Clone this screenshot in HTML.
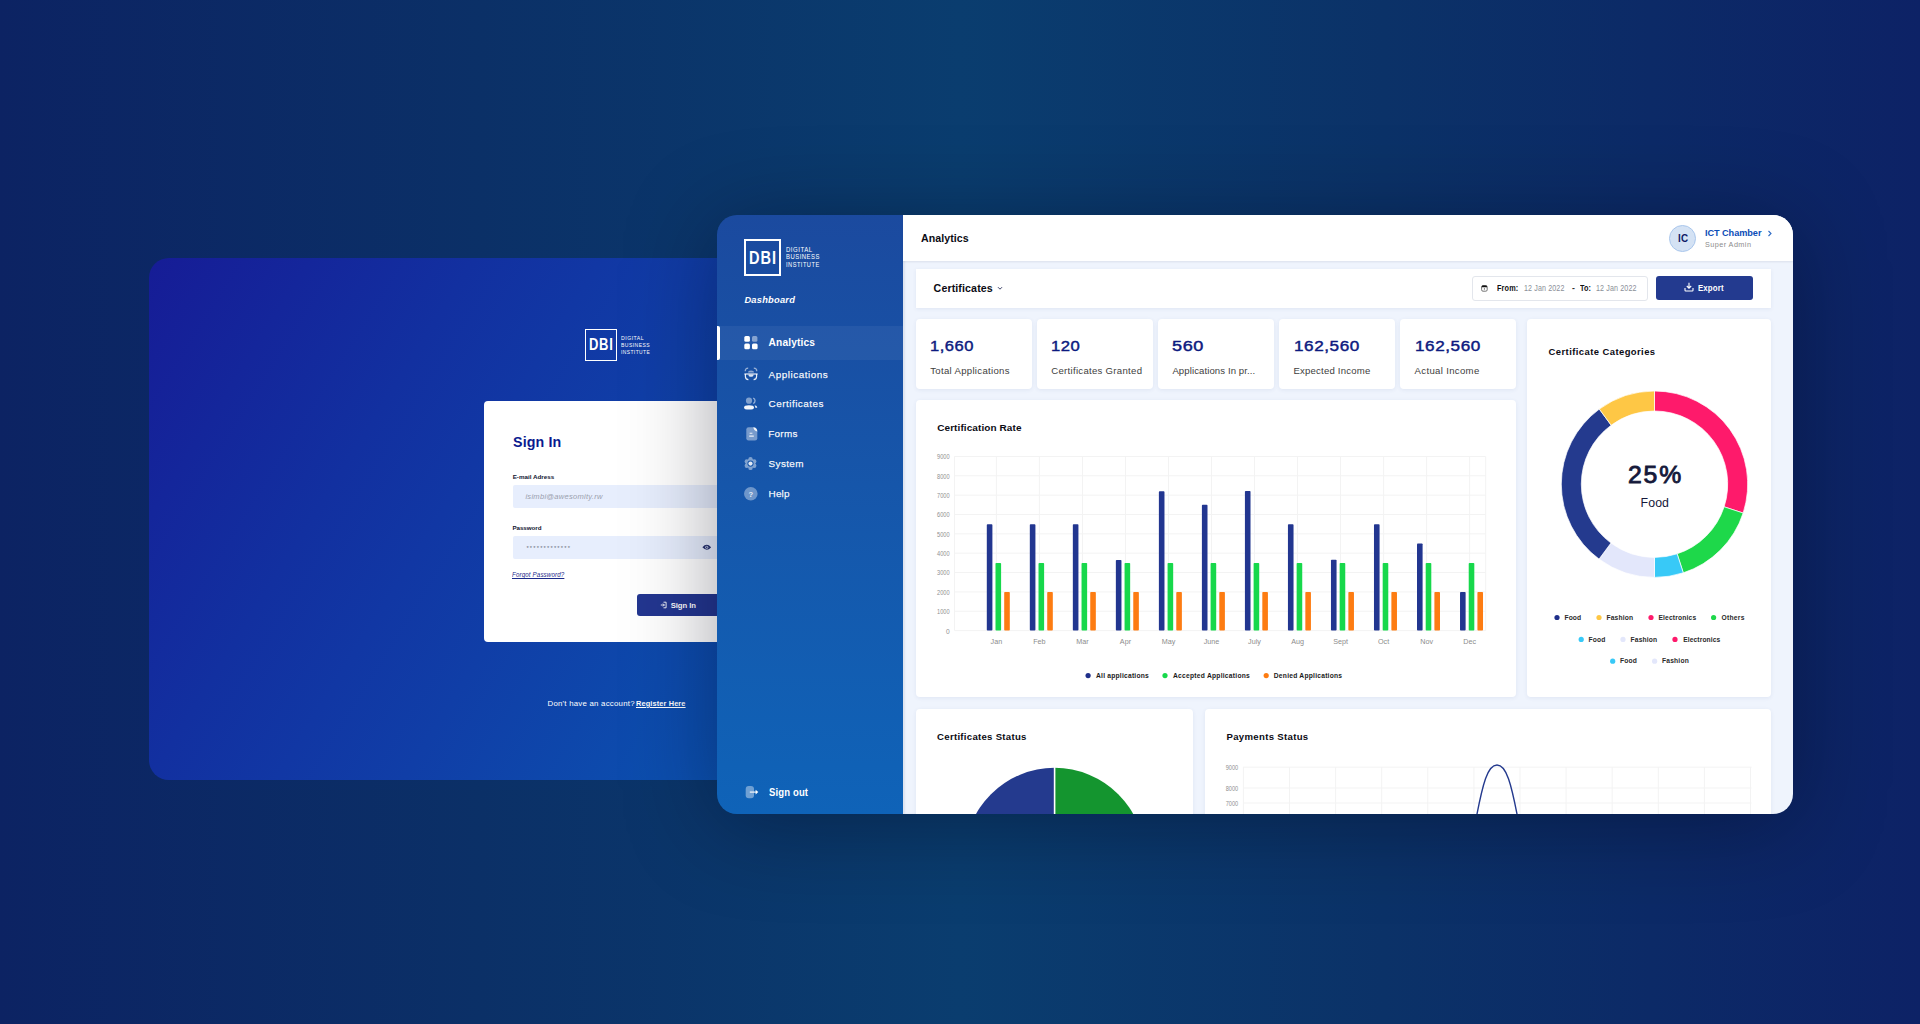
<!DOCTYPE html>
<html><head><meta charset="utf-8"><title>DBI Dashboard</title>
<style>
html,body{margin:0;padding:0;}
body{width:1920px;height:1024px;overflow:hidden;position:relative;font-family:"Liberation Sans",sans-serif;
background:linear-gradient(90deg,#0c2363 0%,#0b3067 25%,#0a3d6f 50%,#0b3268 72%,#0d2266 100%);}
.t{position:absolute;white-space:nowrap;line-height:1;font-family:"Liberation Sans",sans-serif;}
.box{position:absolute;}
.card{background:#fff;border-radius:4px;box-shadow:0 1px 4px rgba(40,60,130,0.08);}
#lp{position:absolute;left:0;top:0;width:1920px;height:1024px;clip-path:inset(258px 1000px 244px 149px round 20px);}
.lpbg{position:absolute;left:149px;top:258px;width:580px;height:522px;background:linear-gradient(122deg,#161c96 0%,#1230a0 36%,#1137a4 50%,#103ea7 64%,#0b52b0 100%);}
#db{position:absolute;left:0;top:0;width:1920px;height:1024px;clip-path:inset(215px 127px 210px 717px round 20px);}
#dshadow{position:absolute;left:717px;top:215px;width:1076px;height:599px;border-radius:20px;box-shadow:0 10px 90px rgba(0,0,20,0.36);}
</style></head><body>
<div id="lp"><div class="lpbg"></div><div class="box" style="left:585.1px;top:329.1px;width:31.8px;height:31.8px;border:1.9px solid #fff;box-sizing:border-box"></div><div class="t" style="left:589.00px;top:337px;font-size:15.99px;letter-spacing:0.900px;color:#fff;font-weight:700;transform:scaleX(0.8122);transform-origin:0.00px 0;">DBI</div>
<div class="t" style="left:621.00px;top:336px;font-size:5.67px;letter-spacing:0.500px;color:#fff;font-weight:400;transform:scaleX(0.9216);transform-origin:0.00px 0;">DIGITAL</div>
<div class="t" style="left:621.00px;top:343px;font-size:5.67px;letter-spacing:0.500px;color:#fff;font-weight:400;transform:scaleX(0.8939);transform-origin:0.00px 0;">BUSINESS</div>
<div class="t" style="left:621.00px;top:350px;font-size:5.67px;letter-spacing:0.500px;color:#fff;font-weight:400;transform:scaleX(0.8637);transform-origin:0.00px 0;">INSTITUTE</div>
<div class="box" style="left:484px;top:401px;width:320px;height:241px;background:#fff;border-radius:4px"></div><div class="t" style="left:512.70px;top:434px;font-size:15.51px;letter-spacing:0.150px;color:#0b1a8f;font-weight:700;transform:scaleX(0.9178);transform-origin:0.00px 0;">Sign In</div>
<div class="t" style="left:512.70px;top:474px;font-size:6.24px;letter-spacing:0.011px;color:#101530;font-weight:700;">E-mail Adress</div>
<div class="box" style="left:512.5px;top:484.6px;width:260px;height:23.1px;background:#e7eefd;border-radius:2px"></div><div class="t" style="left:525.40px;top:493px;font-size:7.56px;letter-spacing:0.275px;color:#9aa0ad;font-weight:400;font-style:italic;">isimbi@awesomity.rw</div>
<div class="t" style="left:512.40px;top:525px;font-size:6.24px;letter-spacing:-0.055px;color:#101530;font-weight:700;">Password</div>
<div class="box" style="left:512.5px;top:536.2px;width:260px;height:22.7px;background:#e7eefd;border-radius:2px"></div><div class="t" style="left:526.40px;top:546px;font-size:5.81px;letter-spacing:1.183px;color:#6b7080;font-weight:400;">*************</div>
<svg class="box" style="left:701.5px;top:544.2px" width="9.5" height="6.6" viewBox="0 0 9.5 6.6"><path d="M0.4 3.3Q4.75 -1.6 9.1 3.3Q4.75 8.2 0.4 3.3Z" fill="#283270"/><circle cx="4.75" cy="3.3" r="1.55" fill="#c9d3ea"/><circle cx="4.75" cy="3.3" r="0.8" fill="#283270"/></svg><div class="t" style="left:512.40px;top:571px;font-size:6.98px;letter-spacing:0.150px;color:#1b2a8a;font-weight:400;font-style:italic;transform:scaleX(0.8881);transform-origin:0.00px 0;text-decoration:underline;">Forgot Password?</div>
<div class="box" style="left:637px;top:594px;width:100px;height:22.4px;background:#233690;border-radius:3px"></div><svg class="box" style="left:660px;top:601px" width="8" height="8" viewBox="0 0 8 8"><path d="M3.5 1.2h2.6v5.6H3.5" fill="none" stroke="#fff" stroke-width="0.9"/><path d="M0.8 4h3.6M3 2.6L4.4 4 3 5.4" fill="none" stroke="#fff" stroke-width="0.9"/></svg><div class="t" style="left:670.70px;top:602px;font-size:7.70px;letter-spacing:-0.063px;color:#fff;font-weight:700;">Sign In</div>
<div class="t" style="left:547.50px;top:700px;font-size:7.85px;letter-spacing:0.232px;color:#fff;font-weight:400;">Don't have an account?</div>
<div class="t" style="left:636.30px;top:700px;font-size:7.85px;letter-spacing:0.150px;color:#fff;font-weight:700;transform:scaleX(0.9364);transform-origin:0.00px 0;text-decoration:underline;">Register Here</div>
</div><div id="dshadow"></div><div id="db"><div class="box" style="left:717px;top:215px;width:186px;height:599px;background:linear-gradient(180deg,#1b4a9f 0%,#1656aa 45%,#0f63b8 100%)"></div><div class="box" style="left:903px;top:215px;width:890px;height:599px;background:#eff4fd;box-shadow:inset 2px 0 2px rgba(60,80,120,0.10)"></div><div class="box" style="left:744px;top:239px;width:37px;height:37px;border:2.3px solid #fff;box-sizing:border-box"></div><div class="t" style="left:748.85px;top:249px;font-size:18.02px;letter-spacing:1.200px;color:#fff;font-weight:700;transform:scaleX(0.8100);transform-origin:0.00px 0;">DBI</div>
<div class="t" style="left:785.60px;top:246px;font-size:6.98px;letter-spacing:0.600px;color:#fff;font-weight:400;transform:scaleX(0.8634);transform-origin:0.00px 0;">DIGITAL</div>
<div class="t" style="left:785.60px;top:253px;font-size:6.98px;letter-spacing:0.600px;color:#fff;font-weight:400;transform:scaleX(0.8459);transform-origin:0.00px 0;">BUSINESS</div>
<div class="t" style="left:785.60px;top:261px;font-size:6.98px;letter-spacing:0.600px;color:#fff;font-weight:400;transform:scaleX(0.8127);transform-origin:0.00px 0;">INSTITUTE</div>
<div class="t" style="left:744.40px;top:296px;font-size:9.30px;letter-spacing:0.234px;color:#fff;font-weight:700;font-style:italic;">Dashboard</div>
<div class="box" style="left:717px;top:325.5px;width:186px;height:34.5px;background:rgba(255,255,255,0.055)"></div><div class="box" style="left:717px;top:325.5px;width:3px;height:34.5px;background:#fff;border-radius:0 2px 2px 0"></div><svg class="box" style="left:744px;top:336px" width="14" height="14" viewBox="0 0 14 14"><rect x="0.3" y="0.1" width="5.6" height="5.6" rx="1.5" fill="#fff"/><rect x="8" y="0.1" width="5.4" height="5.6" rx="1.5" fill="#fff" opacity="0.45"/><rect x="0.3" y="7.4" width="5.6" height="5.8" rx="1.5" fill="#fff"/><rect x="8" y="7.4" width="5.6" height="5.8" rx="1.5" fill="#fff"/></svg><div class="t" style="left:768.60px;top:338px;font-size:10.17px;letter-spacing:0.149px;color:#fff;font-weight:700;">Analytics</div>
<svg class="box" style="left:744px;top:367px" width="14" height="14" viewBox="0 0 14 14"><path d="M1.2 4.2Q1.2 1.2 4.2 1.2M9.8 1.2Q12.8 1.2 12.8 4.2" fill="none" stroke="#fff" stroke-width="1.2" opacity="0.55"/><path d="M4 5.6Q4 3.4 7 3.4Q10 3.4 10 5.6z" fill="#fff" opacity="0.5"/><path d="M0.4 7h13.2" stroke="#fff" stroke-width="1.2" opacity="0.9"/><path d="M1.4 7v2.6Q1.4 12.6 4.4 12.6M12.6 7v2.6Q12.6 12.6 9.6 12.6" fill="none" stroke="#fff" stroke-width="1.2" opacity="0.9"/><path d="M4.4 7.4h5.2Q9.6 9.8 7 9.8Q4.4 9.8 4.4 7.4z" fill="#fff" opacity="0.85"/></svg><div class="t" style="left:768.60px;top:370px;font-size:9.93px;letter-spacing:0.507px;color:rgba(255,255,255,0.92);font-weight:400;-webkit-text-stroke:0.25px rgba(255,255,255,0.92);">Applications</div>
<svg class="box" style="left:743px;top:397px" width="15" height="14" viewBox="0 0 15 14"><circle cx="6" cy="3.7" r="3.1" fill="#fff" opacity="0.45"/><path d="M10.2 1.1a2.9 2.9 0 0 1 0 5.4" fill="none" stroke="#fff" stroke-width="1.3" opacity="0.55"/><ellipse cx="6" cy="10.4" rx="5" ry="2.2" fill="#fff" opacity="0.95"/><path d="M11.6 8.2Q14.2 8.6 14.3 10.6L12.6 10.9Z" fill="#fff" opacity="0.9"/></svg><div class="t" style="left:768.60px;top:399px;font-size:9.93px;letter-spacing:0.477px;color:rgba(255,255,255,0.92);font-weight:400;-webkit-text-stroke:0.25px rgba(255,255,255,0.92);">Certificates</div>
<svg class="box" style="left:745.5px;top:427.3px" width="12" height="14" viewBox="0 0 12 14"><path d="M2.6 0.3H7.5L11.3 4V11.3Q11.3 13.6 9 13.6H2.6Q0.3 13.6 0.3 11.3V2.6Q0.3 0.3 2.6 0.3z" fill="#fff" opacity="0.42"/><path d="M7.3 0.3Q11.3 0.6 11.3 4.4Q8.2 4.2 7.3 0.3z" fill="#fff" opacity="0.95"/><path d="M3.6 6.3h2.8M3.2 9.1h4.6" stroke="#fff" stroke-width="1.1" opacity="0.85"/></svg><div class="t" style="left:768.20px;top:429px;font-size:9.93px;letter-spacing:0.287px;color:rgba(255,255,255,0.92);font-weight:400;-webkit-text-stroke:0.25px rgba(255,255,255,0.92);">Forms</div>
<svg class="box" style="left:744px;top:457.2px" width="13" height="13.4" viewBox="0 0 13 13.4"><g fill="#fff" opacity="0.45"><circle cx="6.5" cy="6.6" r="4.6"/><circle cx="6.50" cy="2.30" r="2.2"/><circle cx="10.22" cy="4.45" r="2.2"/><circle cx="10.22" cy="8.75" r="2.2"/><circle cx="6.50" cy="10.90" r="2.2"/><circle cx="2.78" cy="8.75" r="2.2"/><circle cx="2.78" cy="4.45" r="2.2"/></g><circle cx="6.5" cy="6.6" r="3.1" fill="#1656aa"/><circle cx="6.5" cy="6.6" r="2.1" fill="#fff" opacity="0.88"/></svg><div class="t" style="left:768.60px;top:459px;font-size:9.93px;letter-spacing:0.357px;color:rgba(255,255,255,0.92);font-weight:400;-webkit-text-stroke:0.25px rgba(255,255,255,0.92);">System</div>
<svg class="box" style="left:744px;top:487.3px" width="14" height="14" viewBox="0 0 14 14"><circle cx="6.8" cy="6.8" r="6.8" fill="#fff" opacity="0.38"/><text x="6.8" y="9.6" text-anchor="middle" font-family="Liberation Sans" font-size="7.5" font-weight="700" fill="#fff" opacity="0.85">?</text></svg><div class="t" style="left:768.60px;top:489px;font-size:9.93px;letter-spacing:0.165px;color:rgba(255,255,255,0.92);font-weight:400;-webkit-text-stroke:0.25px rgba(255,255,255,0.92);">Help</div>
<svg class="box" style="left:745px;top:785px" width="14" height="14" viewBox="0 0 14 14"><rect x="0.7" y="0.9" width="8.3" height="12.4" rx="3" fill="#fff" opacity="0.4"/><path d="M4.8 7.1H11" stroke="#fff" stroke-width="1.3" opacity="0.85"/><path d="M10.6 4.8L13.3 7.1L10.6 9.4Z" fill="#fff"/></svg><div class="t" style="left:768.75px;top:788px;font-size:10.17px;letter-spacing:0.150px;color:#fff;font-weight:700;transform:scaleX(0.9358);transform-origin:0.00px 0;">Sign out</div>
<div class="box" style="left:903px;top:215px;width:890px;height:46px;background:#fff;box-shadow:0 1px 2px rgba(40,50,80,0.10)"></div><div class="t" style="left:921.00px;top:233px;font-size:10.61px;letter-spacing:0.067px;color:#0b0b14;font-weight:700;">Analytics</div>
<div class="box" style="left:1668.8px;top:224.8px;width:27px;height:27px;border-radius:50%;background:#d4e2f4;border:1.2px solid #a9c6ec;box-sizing:border-box"></div><div class="t" style="left:1677.80px;top:234px;font-size:10.47px;letter-spacing:0.150px;color:#0e1a66;font-weight:700;transform:scaleX(0.9416);transform-origin:0.00px 0;">IC</div>
<div class="t" style="left:1704.90px;top:229px;font-size:9.16px;letter-spacing:-0.042px;color:#0b4db7;font-weight:700;">ICT Chamber</div>
<svg class="box" style="left:1766.5px;top:229.5px" width="6" height="7" viewBox="0 0 6 7"><path d="M1.5 1l2.5 2.5L1.5 6" fill="none" stroke="#2f6bc4" stroke-width="1.1"/></svg><div class="t" style="left:1704.90px;top:241px;font-size:7.27px;letter-spacing:0.448px;color:#8c8c8c;font-weight:400;">Super Admin</div>
<div class="box card" style="left:916px;top:269px;width:855.3px;height:38.8px;border-radius:0"></div><div class="t" style="left:933.60px;top:283px;font-size:10.61px;letter-spacing:0.121px;color:#0b0b14;font-weight:700;">Certificates</div>
<svg class="box" style="left:997px;top:286px" width="6" height="5" viewBox="0 0 6 5"><path d="M1 1.2l2 2 2-2" fill="none" stroke="#3a3f66" stroke-width="1"/></svg><div class="box" style="left:1472.3px;top:275.5px;width:175.5px;height:25px;border:1px solid #e3e6ec;border-radius:3px;background:#fff;box-sizing:border-box"></div><svg class="box" style="left:1481.2px;top:284.8px" width="7" height="7" viewBox="0 0 7 7"><rect x="0.6" y="0.6" width="5.6" height="5.6" rx="1.4" fill="none" stroke="#666" stroke-width="0.9"/><path d="M0.8 1.7Q0.8 0.5 2 0.5H4.8Q6 0.5 6 1.7V2.2H0.8z" fill="#111"/><circle cx="3.4" cy="3.9" r="0.6" fill="#444"/></svg><div class="t" style="left:1496.80px;top:284px;font-size:8.72px;letter-spacing:0.150px;color:#111;font-weight:700;transform:scaleX(0.8372);transform-origin:0.00px 0;">From:</div>
<div class="t" style="left:1524.40px;top:284px;font-size:8.72px;letter-spacing:0.150px;color:#8b8f98;font-weight:400;transform:scaleX(0.8161);transform-origin:0.00px 0;">12 Jan 2022</div>
<div class="t" style="left:1571.90px;top:284px;font-size:8.72px;letter-spacing:0.000px;color:#333;font-weight:700;">-</div>
<div class="t" style="left:1580.00px;top:284px;font-size:8.72px;letter-spacing:0.150px;color:#111;font-weight:700;transform:scaleX(0.8330);transform-origin:0.00px 0;">To:</div>
<div class="t" style="left:1596.00px;top:284px;font-size:8.72px;letter-spacing:0.150px;color:#8b8f98;font-weight:400;transform:scaleX(0.8181);transform-origin:0.00px 0;">12 Jan 2022</div>
<div class="box" style="left:1655.8px;top:276px;width:96.9px;height:24px;background:#233a8f;border-radius:3px"></div><svg class="box" style="left:1684px;top:281.5px" width="10" height="10" viewBox="0 0 10 10"><path d="M5 0.8v5.2M2.8 4l2.2 2.2L7.2 4M1 6v2.2Q1 9 1.8 9h6.4Q9 9 9 8.2V6" fill="none" stroke="#fff" stroke-width="1.1"/></svg><div class="t" style="left:1697.80px;top:284px;font-size:8.72px;letter-spacing:0.150px;color:#fff;font-weight:700;transform:scaleX(0.8995);transform-origin:0.00px 0;">Export</div>
<div class="box card" style="left:916.00px;top:319px;width:115.6px;height:70.2px"></div><div class="t" style="left:930.20px;top:338px;font-size:15.51px;letter-spacing:0.500px;color:#0c1a80;font-weight:400;-webkit-text-stroke:0.45px #0c1a80;transform:scaleX(1.0673);transform-origin:0.00px 0;">1,660</div>
<div class="t" style="left:930.20px;top:366px;font-size:9.59px;letter-spacing:0.313px;color:#404040;font-weight:400;">Total Applications</div>
<div class="box card" style="left:1037.10px;top:319px;width:115.6px;height:70.2px"></div><div class="t" style="left:1051.30px;top:338px;font-size:15.51px;letter-spacing:0.500px;color:#0c1a80;font-weight:400;-webkit-text-stroke:0.45px #0c1a80;transform:scaleX(1.0743);transform-origin:0.00px 0;">120</div>
<div class="t" style="left:1051.30px;top:366px;font-size:9.59px;letter-spacing:0.289px;color:#404040;font-weight:400;">Certificates Granted</div>
<div class="box card" style="left:1158.20px;top:319px;width:115.6px;height:70.2px"></div><div class="t" style="left:1172.40px;top:338px;font-size:15.51px;letter-spacing:0.500px;color:#0c1a80;font-weight:400;-webkit-text-stroke:0.45px #0c1a80;transform:scaleX(1.1672);transform-origin:0.00px 0;">560</div>
<div class="t" style="left:1172.40px;top:366px;font-size:9.59px;letter-spacing:0.093px;color:#404040;font-weight:400;">Applications In pr...</div>
<div class="box card" style="left:1279.30px;top:319px;width:115.6px;height:70.2px"></div><div class="t" style="left:1293.50px;top:338px;font-size:15.51px;letter-spacing:0.500px;color:#0c1a80;font-weight:400;-webkit-text-stroke:0.45px #0c1a80;transform:scaleX(1.1055);transform-origin:0.00px 0;">162,560</div>
<div class="t" style="left:1293.50px;top:366px;font-size:9.59px;letter-spacing:0.194px;color:#404040;font-weight:400;">Expected Income</div>
<div class="box card" style="left:1400.40px;top:319px;width:115.6px;height:70.2px"></div><div class="t" style="left:1414.60px;top:338px;font-size:15.51px;letter-spacing:0.500px;color:#0c1a80;font-weight:400;-webkit-text-stroke:0.45px #0c1a80;transform:scaleX(1.1055);transform-origin:0.00px 0;">162,560</div>
<div class="t" style="left:1414.60px;top:366px;font-size:9.59px;letter-spacing:0.329px;color:#404040;font-weight:400;">Actual Income</div>
<div class="box card" style="left:916px;top:399.6px;width:600px;height:297.8px"></div><div class="t" style="left:937.20px;top:423px;font-size:9.97px;letter-spacing:0.103px;color:#0b0b14;font-weight:700;">Certification Rate</div>
<div class="box card" style="left:1527.4px;top:319px;width:244.1px;height:378.2px"></div><div class="t" style="left:1548.60px;top:347px;font-size:9.45px;letter-spacing:0.425px;color:#0b0b14;font-weight:700;">Certificate Categories</div>
<div class="box card" style="left:915.5px;top:709px;width:277.5px;height:200px"></div><div class="t" style="left:937.10px;top:732px;font-size:9.59px;letter-spacing:0.289px;color:#0b0b14;font-weight:700;">Certificates Status</div>
<div class="box card" style="left:1204.7px;top:709px;width:566.3px;height:200px"></div><div class="t" style="left:1226.50px;top:732px;font-size:9.59px;letter-spacing:0.322px;color:#0b0b14;font-weight:700;">Payments Status</div>
<svg class="box" style="left:0;top:0" width="1920" height="1024" viewBox="0 0 1920 1024"><line x1="954.5" y1="630.60" x2="1485.7" y2="630.60" stroke="#f3f3f3" stroke-width="1"/><text x="949.6" y="633.50" text-anchor="end" font-family="Liberation Sans" font-size="6.6" fill="#8f8f8f">0</text><line x1="954.5" y1="611.25" x2="1485.7" y2="611.25" stroke="#f3f3f3" stroke-width="1"/><text x="949.6" y="614.15" text-anchor="end" font-family="Liberation Sans" font-size="6.6" fill="#8f8f8f" textLength="12.5" lengthAdjust="spacingAndGlyphs">1000</text><line x1="954.5" y1="591.90" x2="1485.7" y2="591.90" stroke="#f3f3f3" stroke-width="1"/><text x="949.6" y="594.80" text-anchor="end" font-family="Liberation Sans" font-size="6.6" fill="#8f8f8f" textLength="12.5" lengthAdjust="spacingAndGlyphs">2000</text><line x1="954.5" y1="572.55" x2="1485.7" y2="572.55" stroke="#f3f3f3" stroke-width="1"/><text x="949.6" y="575.45" text-anchor="end" font-family="Liberation Sans" font-size="6.6" fill="#8f8f8f" textLength="12.5" lengthAdjust="spacingAndGlyphs">3000</text><line x1="954.5" y1="553.20" x2="1485.7" y2="553.20" stroke="#f3f3f3" stroke-width="1"/><text x="949.6" y="556.10" text-anchor="end" font-family="Liberation Sans" font-size="6.6" fill="#8f8f8f" textLength="12.5" lengthAdjust="spacingAndGlyphs">4000</text><line x1="954.5" y1="533.85" x2="1485.7" y2="533.85" stroke="#f3f3f3" stroke-width="1"/><text x="949.6" y="536.75" text-anchor="end" font-family="Liberation Sans" font-size="6.6" fill="#8f8f8f" textLength="12.5" lengthAdjust="spacingAndGlyphs">5000</text><line x1="954.5" y1="514.50" x2="1485.7" y2="514.50" stroke="#f3f3f3" stroke-width="1"/><text x="949.6" y="517.40" text-anchor="end" font-family="Liberation Sans" font-size="6.6" fill="#8f8f8f" textLength="12.5" lengthAdjust="spacingAndGlyphs">6000</text><line x1="954.5" y1="495.15" x2="1485.7" y2="495.15" stroke="#f3f3f3" stroke-width="1"/><text x="949.6" y="498.05" text-anchor="end" font-family="Liberation Sans" font-size="6.6" fill="#8f8f8f" textLength="12.5" lengthAdjust="spacingAndGlyphs">7000</text><line x1="954.5" y1="475.80" x2="1485.7" y2="475.80" stroke="#f3f3f3" stroke-width="1"/><text x="949.6" y="478.70" text-anchor="end" font-family="Liberation Sans" font-size="6.6" fill="#8f8f8f" textLength="12.5" lengthAdjust="spacingAndGlyphs">8000</text><line x1="954.5" y1="456.45" x2="1485.7" y2="456.45" stroke="#f3f3f3" stroke-width="1"/><text x="949.6" y="459.35" text-anchor="end" font-family="Liberation Sans" font-size="6.6" fill="#8f8f8f" textLength="12.5" lengthAdjust="spacingAndGlyphs">9000</text><line x1="954.5" y1="456.45" x2="954.5" y2="630.60" stroke="#f3f3f3"/><line x1="1485.7" y1="456.45" x2="1485.7" y2="630.60" stroke="#f3f3f3"/><line x1="996.40" y1="456.45" x2="996.40" y2="630.60" stroke="#f3f3f3"/><rect x="986.80" y="524.17" width="5.6" height="106.43" rx="0.8" fill="#223690"/><rect x="995.50" y="562.88" width="5.6" height="67.73" rx="0.8" fill="#17d84b"/><rect x="1004.20" y="591.90" width="5.6" height="38.70" rx="0.8" fill="#fd7c12"/><text x="996.40" y="644.3" text-anchor="middle" font-family="Liberation Sans" font-size="7.2" fill="#8c8c8c">Jan</text><line x1="1039.42" y1="456.45" x2="1039.42" y2="630.60" stroke="#f3f3f3"/><rect x="1029.82" y="524.17" width="5.6" height="106.43" rx="0.8" fill="#223690"/><rect x="1038.52" y="562.88" width="5.6" height="67.73" rx="0.8" fill="#17d84b"/><rect x="1047.22" y="591.90" width="5.6" height="38.70" rx="0.8" fill="#fd7c12"/><text x="1039.42" y="644.3" text-anchor="middle" font-family="Liberation Sans" font-size="7.2" fill="#8c8c8c">Feb</text><line x1="1082.44" y1="456.45" x2="1082.44" y2="630.60" stroke="#f3f3f3"/><rect x="1072.84" y="524.17" width="5.6" height="106.43" rx="0.8" fill="#223690"/><rect x="1081.54" y="562.88" width="5.6" height="67.73" rx="0.8" fill="#17d84b"/><rect x="1090.24" y="591.90" width="5.6" height="38.70" rx="0.8" fill="#fd7c12"/><text x="1082.44" y="644.3" text-anchor="middle" font-family="Liberation Sans" font-size="7.2" fill="#8c8c8c">Mar</text><line x1="1125.46" y1="456.45" x2="1125.46" y2="630.60" stroke="#f3f3f3"/><rect x="1115.86" y="559.97" width="5.6" height="70.63" rx="0.8" fill="#223690"/><rect x="1124.56" y="562.88" width="5.6" height="67.73" rx="0.8" fill="#17d84b"/><rect x="1133.26" y="591.90" width="5.6" height="38.70" rx="0.8" fill="#fd7c12"/><text x="1125.46" y="644.3" text-anchor="middle" font-family="Liberation Sans" font-size="7.2" fill="#8c8c8c">Apr</text><line x1="1168.48" y1="456.45" x2="1168.48" y2="630.60" stroke="#f3f3f3"/><rect x="1158.88" y="491.28" width="5.6" height="139.32" rx="0.8" fill="#223690"/><rect x="1167.58" y="562.88" width="5.6" height="67.73" rx="0.8" fill="#17d84b"/><rect x="1176.28" y="591.90" width="5.6" height="38.70" rx="0.8" fill="#fd7c12"/><text x="1168.48" y="644.3" text-anchor="middle" font-family="Liberation Sans" font-size="7.2" fill="#8c8c8c">May</text><line x1="1211.50" y1="456.45" x2="1211.50" y2="630.60" stroke="#f3f3f3"/><rect x="1201.90" y="504.83" width="5.6" height="125.78" rx="0.8" fill="#223690"/><rect x="1210.60" y="562.88" width="5.6" height="67.73" rx="0.8" fill="#17d84b"/><rect x="1219.30" y="591.90" width="5.6" height="38.70" rx="0.8" fill="#fd7c12"/><text x="1211.50" y="644.3" text-anchor="middle" font-family="Liberation Sans" font-size="7.2" fill="#8c8c8c">June</text><line x1="1254.52" y1="456.45" x2="1254.52" y2="630.60" stroke="#f3f3f3"/><rect x="1244.92" y="490.89" width="5.6" height="139.71" rx="0.8" fill="#223690"/><rect x="1253.62" y="562.88" width="5.6" height="67.73" rx="0.8" fill="#17d84b"/><rect x="1262.32" y="591.90" width="5.6" height="38.70" rx="0.8" fill="#fd7c12"/><text x="1254.52" y="644.3" text-anchor="middle" font-family="Liberation Sans" font-size="7.2" fill="#8c8c8c">July</text><line x1="1297.54" y1="456.45" x2="1297.54" y2="630.60" stroke="#f3f3f3"/><rect x="1287.94" y="524.17" width="5.6" height="106.43" rx="0.8" fill="#223690"/><rect x="1296.64" y="562.88" width="5.6" height="67.73" rx="0.8" fill="#17d84b"/><rect x="1305.34" y="591.90" width="5.6" height="38.70" rx="0.8" fill="#fd7c12"/><text x="1297.54" y="644.3" text-anchor="middle" font-family="Liberation Sans" font-size="7.2" fill="#8c8c8c">Aug</text><line x1="1340.56" y1="456.45" x2="1340.56" y2="630.60" stroke="#f3f3f3"/><rect x="1330.96" y="559.78" width="5.6" height="70.82" rx="0.8" fill="#223690"/><rect x="1339.66" y="562.88" width="5.6" height="67.73" rx="0.8" fill="#17d84b"/><rect x="1348.36" y="591.90" width="5.6" height="38.70" rx="0.8" fill="#fd7c12"/><text x="1340.56" y="644.3" text-anchor="middle" font-family="Liberation Sans" font-size="7.2" fill="#8c8c8c">Sept</text><line x1="1383.58" y1="456.45" x2="1383.58" y2="630.60" stroke="#f3f3f3"/><rect x="1373.98" y="524.17" width="5.6" height="106.43" rx="0.8" fill="#223690"/><rect x="1382.68" y="562.88" width="5.6" height="67.73" rx="0.8" fill="#17d84b"/><rect x="1391.38" y="591.90" width="5.6" height="38.70" rx="0.8" fill="#fd7c12"/><text x="1383.58" y="644.3" text-anchor="middle" font-family="Liberation Sans" font-size="7.2" fill="#8c8c8c">Oct</text><line x1="1426.60" y1="456.45" x2="1426.60" y2="630.60" stroke="#f3f3f3"/><rect x="1417.00" y="543.52" width="5.6" height="87.08" rx="0.8" fill="#223690"/><rect x="1425.70" y="562.88" width="5.6" height="67.73" rx="0.8" fill="#17d84b"/><rect x="1434.40" y="591.90" width="5.6" height="38.70" rx="0.8" fill="#fd7c12"/><text x="1426.60" y="644.3" text-anchor="middle" font-family="Liberation Sans" font-size="7.2" fill="#8c8c8c">Nov</text><line x1="1469.62" y1="456.45" x2="1469.62" y2="630.60" stroke="#f3f3f3"/><rect x="1460.02" y="591.90" width="5.6" height="38.70" rx="0.8" fill="#223690"/><rect x="1468.72" y="562.88" width="5.6" height="67.73" rx="0.8" fill="#17d84b"/><rect x="1477.42" y="591.90" width="5.6" height="38.70" rx="0.8" fill="#fd7c12"/><text x="1469.62" y="644.3" text-anchor="middle" font-family="Liberation Sans" font-size="7.2" fill="#8c8c8c">Dec</text><circle cx="1088.1" cy="675.6" r="2.6" fill="#1f2f8a"/><circle cx="1165" cy="675.6" r="2.6" fill="#17d84b"/><circle cx="1266.2" cy="675.6" r="2.6" fill="#fd7c12"/><path d="M1654.50 391.00A93.2 93.2 0 0 1 1743.14 513.00L1724.12 506.82A73.2 73.2 0 0 0 1654.50 411.00Z" fill="#fe1a6b" stroke="#fff" stroke-width="0.7"/><path d="M1743.14 513.00A93.2 93.2 0 0 1 1683.30 572.84L1677.12 553.82A73.2 73.2 0 0 0 1724.12 506.82Z" fill="#1ed84a" stroke="#fff" stroke-width="0.7"/><path d="M1683.30 572.84A93.2 93.2 0 0 1 1654.50 577.40L1654.50 557.40A73.2 73.2 0 0 0 1677.12 553.82Z" fill="#38c9f7" stroke="#fff" stroke-width="0.7"/><path d="M1654.50 577.40A93.2 93.2 0 0 1 1599.06 559.12L1610.96 543.04A73.2 73.2 0 0 0 1654.50 557.40Z" fill="#e3e7fb" stroke="#fff" stroke-width="0.7"/><path d="M1599.06 559.12A93.2 93.2 0 0 1 1599.32 409.09L1611.16 425.21A73.2 73.2 0 0 0 1610.96 543.04Z" fill="#243a8e" stroke="#fff" stroke-width="0.7"/><path d="M1599.32 409.09A93.2 93.2 0 0 1 1654.50 391.00L1654.50 411.00A73.2 73.2 0 0 0 1611.16 425.21Z" fill="#fec745" stroke="#fff" stroke-width="0.7"/><circle cx="1557" cy="617.5" r="2.6" fill="#1f2f8a"/><circle cx="1599" cy="617.5" r="2.6" fill="#fec745"/><circle cx="1651" cy="617.5" r="2.6" fill="#fe1a6b"/><circle cx="1713.6" cy="617.5" r="2.6" fill="#1ed84a"/><circle cx="1581.2" cy="639.4" r="2.6" fill="#38c9f7"/><circle cx="1623" cy="639.4" r="2.6" fill="#e3e7fb"/><circle cx="1675" cy="639.4" r="2.6" fill="#fe1a6b"/><circle cx="1612.7" cy="661.2" r="2.6" fill="#38c9f7"/><circle cx="1654.6" cy="661.2" r="2.6" fill="#e3e7fb"/><path d="M1054.6 857.8L1054.6 767.8A90 90 0 0 0 964.5999999999999 857.8Z" fill="#243a8e"/><path d="M1054.6 857.8L1054.6 767.8A90 90 0 0 1 1144.6 857.8Z" fill="#14952f"/><line x1="1054.6" y1="766.8" x2="1054.6" y2="857.8" stroke="#fff" stroke-width="1.6"/><line x1="1243" y1="767.2" x2="1751.6" y2="767.2" stroke="#f3f3f3"/><text x="1238.2" y="770.1" text-anchor="end" font-family="Liberation Sans" font-size="6.6" fill="#8f8f8f" textLength="12.5" lengthAdjust="spacingAndGlyphs">9000</text><line x1="1243" y1="788" x2="1751.6" y2="788" stroke="#f3f3f3"/><text x="1238.2" y="790.9" text-anchor="end" font-family="Liberation Sans" font-size="6.6" fill="#8f8f8f" textLength="12.5" lengthAdjust="spacingAndGlyphs">8000</text><line x1="1243" y1="803" x2="1751.6" y2="803" stroke="#f3f3f3"/><text x="1238.2" y="805.9" text-anchor="end" font-family="Liberation Sans" font-size="6.6" fill="#8f8f8f" textLength="12.5" lengthAdjust="spacingAndGlyphs">7000</text><line x1="1243.4" y1="767.2" x2="1243.4" y2="820" stroke="#f3f3f3"/><line x1="1289.5" y1="767.2" x2="1289.5" y2="820" stroke="#f3f3f3"/><line x1="1335.6" y1="767.2" x2="1335.6" y2="820" stroke="#f3f3f3"/><line x1="1381.7" y1="767.2" x2="1381.7" y2="820" stroke="#f3f3f3"/><line x1="1427.8" y1="767.2" x2="1427.8" y2="820" stroke="#f3f3f3"/><line x1="1473.9" y1="767.2" x2="1473.9" y2="820" stroke="#f3f3f3"/><line x1="1520.0" y1="767.2" x2="1520.0" y2="820" stroke="#f3f3f3"/><line x1="1566.1" y1="767.2" x2="1566.1" y2="820" stroke="#f3f3f3"/><line x1="1612.2" y1="767.2" x2="1612.2" y2="820" stroke="#f3f3f3"/><line x1="1658.3" y1="767.2" x2="1658.3" y2="820" stroke="#f3f3f3"/><line x1="1704.4" y1="767.2" x2="1704.4" y2="820" stroke="#f3f3f3"/><line x1="1750.5" y1="767.2" x2="1750.5" y2="820" stroke="#f3f3f3"/><path d="M1474 830 C1483 780 1488 765 1497 765 C1506 765 1511 780 1520 830" fill="none" stroke="#243a8e" stroke-width="1.4"/></svg><div class="t" style="left:1096.00px;top:673px;font-size:6.69px;letter-spacing:0.224px;color:#1a1a1a;font-weight:700;">All applications</div>
<div class="t" style="left:1173.00px;top:673px;font-size:6.69px;letter-spacing:0.246px;color:#1a1a1a;font-weight:700;">Accepted Applications</div>
<div class="t" style="left:1273.80px;top:673px;font-size:6.69px;letter-spacing:0.236px;color:#1a1a1a;font-weight:700;">Denied Applications</div>
<div class="t" style="left:1627.90px;top:463px;font-size:24.76px;letter-spacing:1.890px;color:#15193a;font-weight:400;-webkit-text-stroke:0.9px #15193a;">25%</div>
<div class="t" style="left:1640.50px;top:497px;font-size:12.35px;letter-spacing:0.114px;color:#15193a;font-weight:400;">Food</div>
<div class="t" style="left:1564.50px;top:615px;font-size:6.69px;letter-spacing:0.048px;color:#2a2a2a;font-weight:700;">Food</div>
<div class="t" style="left:1606.40px;top:615px;font-size:6.69px;letter-spacing:0.157px;color:#2a2a2a;font-weight:700;">Fashion</div>
<div class="t" style="left:1658.40px;top:615px;font-size:6.69px;letter-spacing:0.174px;color:#2a2a2a;font-weight:700;">Electronics</div>
<div class="t" style="left:1721.40px;top:615px;font-size:6.69px;letter-spacing:0.285px;color:#2a2a2a;font-weight:700;">Others</div>
<div class="t" style="left:1588.60px;top:637px;font-size:6.69px;letter-spacing:0.114px;color:#2a2a2a;font-weight:700;">Food</div>
<div class="t" style="left:1630.50px;top:637px;font-size:6.69px;letter-spacing:0.174px;color:#2a2a2a;font-weight:700;">Fashion</div>
<div class="t" style="left:1683.20px;top:637px;font-size:6.69px;letter-spacing:0.104px;color:#2a2a2a;font-weight:700;">Electronics</div>
<div class="t" style="left:1620.00px;top:658px;font-size:6.69px;letter-spacing:0.148px;color:#2a2a2a;font-weight:700;">Food</div>
<div class="t" style="left:1662.00px;top:658px;font-size:6.69px;letter-spacing:0.191px;color:#2a2a2a;font-weight:700;">Fashion</div>
</div>
</body></html>
